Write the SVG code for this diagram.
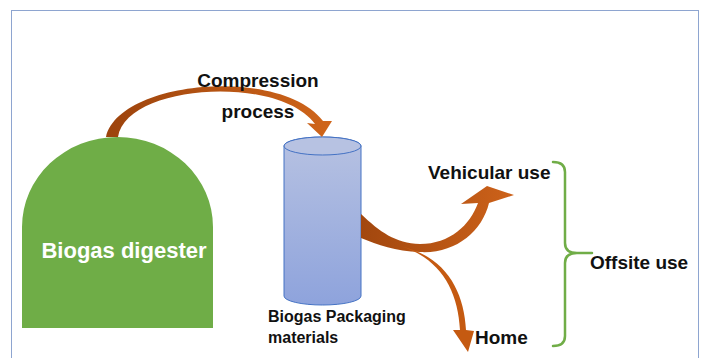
<svg xmlns="http://www.w3.org/2000/svg" width="703" height="358" viewBox="0 0 703 358">
<defs>
<linearGradient id="cyl" x1="0" y1="0" x2="0" y2="1">
<stop offset="0" stop-color="#b7c2e2"/>
<stop offset="1" stop-color="#8ea3dc"/>
</linearGradient>
<linearGradient id="arcG" x1="0" y1="0" x2="1" y2="0">
<stop offset="0" stop-color="#9c430c"/>
<stop offset="1" stop-color="#d0651a"/>
</linearGradient>
<linearGradient id="outG" x1="0" y1="0" x2="1" y2="0">
<stop offset="0" stop-color="#a2470e"/>
<stop offset="1" stop-color="#cd621a"/>
</linearGradient>
</defs>
<style>
.lbl{font-family:"Liberation Sans",Arial,sans-serif;font-weight:bold;fill:#111;}
.brace{fill:none;stroke:#70ad47;stroke-width:2.5;stroke-linecap:round;stroke-linejoin:round;}
</style>
<rect x="11.5" y="10.5" width="687" height="360" fill="#fff" stroke="#8ea5d0" stroke-width="1"/>
<g id="digester">
<path d="M22,328 L22,227 A95.5,90 0 0 1 213,227 L213,328 Z" fill="#6fad47"/>
<text x="124" y="258" text-anchor="middle" style="font-family:'Liberation Sans',Arial,sans-serif;font-weight:bold;font-size:22px;fill:#fff">Biogas digester</text>
</g>
<g id="cylinder">
<path d="M284,146 L284,296 A38.5,9 0 0 0 361,296 L361,146 A38.5,9 0 0 0 284,146 Z" fill="url(#cyl)" stroke="#4472c4" stroke-width="1"/>
<ellipse cx="322.5" cy="146" rx="38.5" ry="9" fill="#b7c2e2" stroke="#4472c4" stroke-width="1"/>
<text class="lbl" x="268" y="322" font-size="16">Biogas Packaging</text>
<text class="lbl" x="268" y="343" font-size="16">materials</text>
</g>
<g id="connectors">
<path d="M106,137 C119,80 281,66 323,121 L332,121 L322,137 L307,123 L315,124 C278,74 126,84 118,137 Z" fill="url(#arcG)"/>
<path d="M361,214 C380,232 395,243 420,244 C450,244 470,225 478,203 L461,204 L487,186 L514,195 L489,203 C482,232 455,254 420,252 C395,251 378,245 361,238 Z" fill="url(#outG)"/>
<path d="M400,246 C440,258 458,290 460,330 L453,330 L468,352 L474,331 L466,330 C464,290 445,256 400,246 Z" fill="#c55a11"/>
</g>
<g id="labels">
<text class="lbl" x="258" y="87" font-size="19" text-anchor="middle">Compression</text>
<text class="lbl" x="258" y="118" font-size="19" text-anchor="middle">process</text>
<text class="lbl" x="428" y="179" font-size="19">Vehicular use</text>
<text class="lbl" x="475" y="344" font-size="19">Home</text>
</g>
<g id="offsite">
<path class="brace" d="M553,162 Q565,162 565,172 L565,243 Q565,253 577,253 L592,253 M577,253 Q565,253 565,263 L565,336 Q565,346 553,346"/>
<text class="lbl" x="590" y="269" font-size="19">Offsite use</text>
</g>
</svg>
